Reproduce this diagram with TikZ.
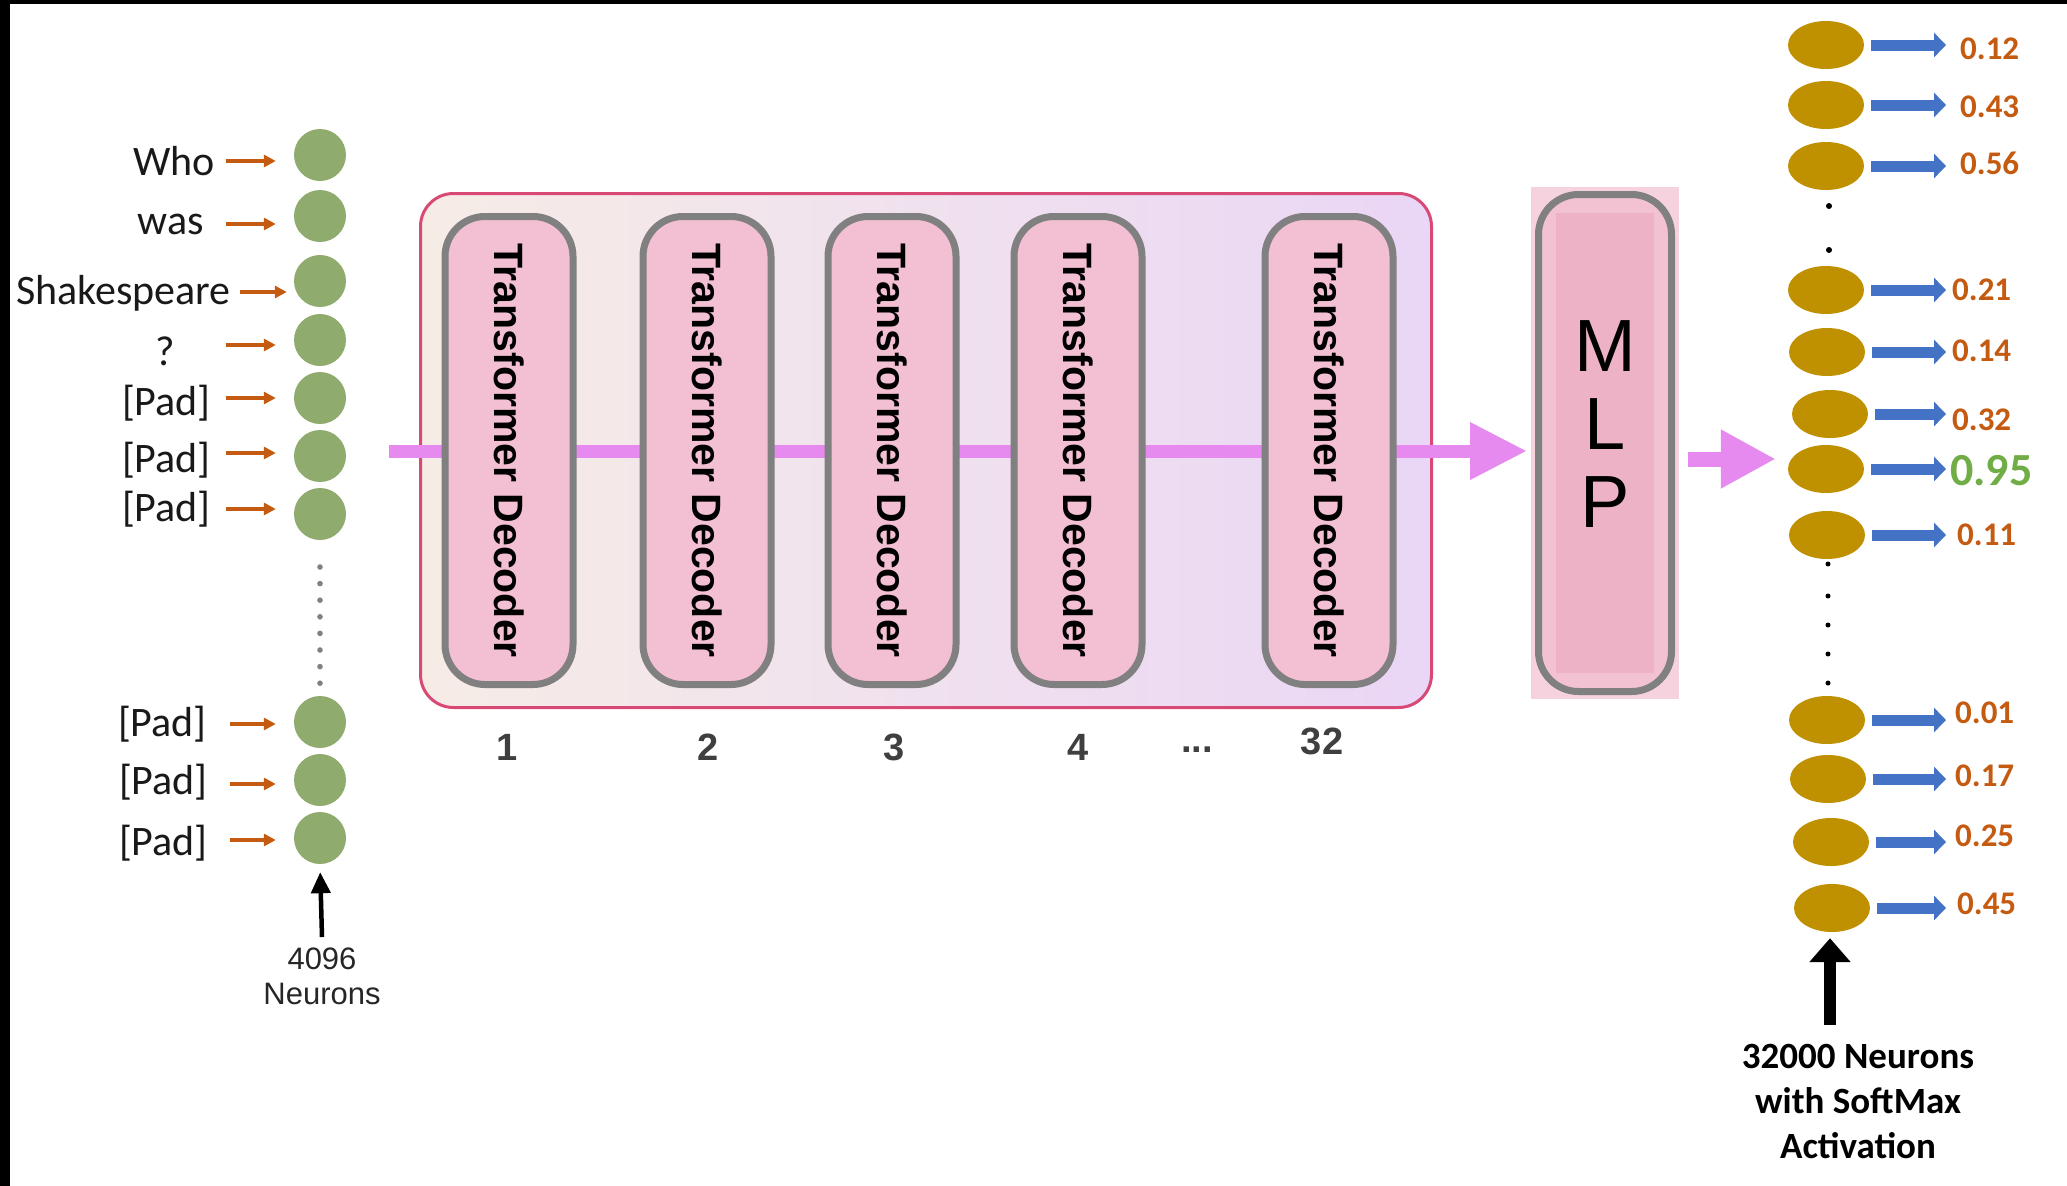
\documentclass[tikz,border=0pt]{standalone}
\usepackage{fontspec}
\usetikzlibrary{arrows.meta,calc,shapes.geometric}
\newfontfamily\carl{Carlito}
\newfontfamily\helv{Liberation Sans}
\definecolor{ingreen}{HTML}{8FAC6E}
\definecolor{orangeA}{HTML}{C55A11}
\definecolor{goldE}{HTML}{BF9000}
\definecolor{blueA}{HTML}{4472C4}
\definecolor{greenV}{HTML}{70AD47}
\definecolor{flowC}{HTML}{E68AEF}
\definecolor{decF}{HTML}{F3BFD3}
\definecolor{decD}{HTML}{808080}
\definecolor{stackD}{HTML}{D84A75}
\definecolor{stackL}{HTML}{F6ECE6}
\definecolor{stackM}{HTML}{F4DBEA}
\definecolor{stackR}{HTML}{EAD6F6}
\definecolor{mlpF}{HTML}{F2C2D2}
\definecolor{mlpIn}{HTML}{EEB2C6}
\definecolor{mlpBg}{HTML}{F6D2DE}
\definecolor{numC}{HTML}{3F3F3F}
\begin{document}
\begin{tikzpicture}[x=1pt,y=-1pt,
  incirc/.style={circle,fill=ingreen,minimum size=52pt,inner sep=0pt},
  wlabel/.style={inner sep=0pt,font=\carl\fontsize{42}{50}\selectfont,text=black!90},
  oarr/.style={draw=orangeA,line width=3.2pt,-{Triangle[length=12pt,width=12pt]},shorten >=18pt},
  stackbox/.style={draw=stackD,line width=3pt,rounded corners=33pt,
    left color=stackL,middle color=stackM,right color=stackR,
    minimum width=1011pt,minimum height=514pt,inner sep=0pt},
  dec/.style={rounded corners=40pt,draw=decD,line width=7pt,fill=decF,
    minimum width=468pt,minimum height=128pt,rotate=-90,inner sep=0pt,
    font=\helv\bfseries\fontsize{41}{48}\selectfont},
  layernum/.style={inner sep=0pt,text=numC,font=\helv\bfseries\fontsize{38}{44}\selectfont},
  pflow/.style={draw=flowC,line width=13pt,-{Triangle[length=57pt,width=54pt]}},
  pflowb/.style={draw=flowC,line width=15pt,-{Triangle[length=55pt,width=55pt]}},
  outell/.style={ellipse,fill=goldE,minimum width=76pt,minimum height=48pt,inner sep=0pt},
  barr/.style={draw=blueA,line width=11pt,-{Triangle[length=12pt,width=24pt]},shorten <=7pt},
  val/.style={inner sep=0pt,anchor=west,text=orangeA,font=\carl\bfseries\fontsize{33}{40}\selectfont},
  upbig/.style={draw=black,line width=12pt,-{Triangle[length=24pt,width=40pt]}},
  upsmall/.style={draw=black,line width=4.5pt,-{Triangle[length=21pt,width=19pt]}}
]
\useasboundingbox (0,0) rectangle (2067,1186);
\fill[white] (0,0) rectangle (2067,1186);
% frame bars along the top and left edges
\fill[black] (0,0) rectangle (2067,4);
\fill[black] (0,0) rectangle (10,1186);

% ---------- input tokens ----------
\foreach \n/\y in {1/155,2/216,3/281,4/340,5/398,6/456,7/514,8/722,9/780,10/838}
  \node[incirc] (c\n) at (320,\y) {};

\node[wlabel,anchor=east] (w1) at (215,161) {Who};
\node[wlabel,anchor=east] (w2) at (204,224) {was};
\node[wlabel,anchor=east] (w3) at (231,293) {Shakespeare};
\node[wlabel] (w4) at (165,351) {?};
\node[wlabel,anchor=east] (w5) at (211,403) {[Pad]};
\node[wlabel,anchor=east] (w6) at (211,460) {[Pad]};
\node[wlabel,anchor=east] (w7) at (211,509) {[Pad]};
\node[wlabel,anchor=east] (w8) at (207,724) {[Pad]};
\node[wlabel,anchor=east] (w9) at (208,782) {[Pad]};
\node[wlabel,anchor=east] (w10) at (208,843) {[Pad]};

\foreach \n/\x/\y in {1/226/161,2/226/224,4/226/345,5/226/398,6/226/453,7/226/509,8/230/724,9/230/784,10/230/840}{
  \coordinate (a\n) at (\x,\y);
  \draw[oarr] (a\n) -- (a\n -| c\n.west);
}
\coordinate (a3) at (240,292);
\draw[oarr,shorten >=7pt] (a3) -- (a3 -| c3.west);

% elided neurons
\foreach \k in {0,...,7}
  \fill[gray] (320,567+\k*16.6) circle (2.8);

\node[inner sep=0pt,align=center,text=black!85,font=\helv\fontsize{31}{35}\selectfont] (nin) at (322,976) {4096\\Neurons};
\coordinate (nb) at (322,937);
\draw[upsmall,shorten >=8pt] (nb) -- (c10.south);

% ---------- decoder stack ----------
\node[stackbox] (stack) at (926,450.5) {};
\coordinate (p0) at (389,451);

% MLP block
\fill[mlpBg] (1531,187) rectangle (1679,699);
\node[draw=decD,line width=7pt,fill=mlpF,rounded corners=40pt,minimum width=133pt,minimum height=497pt,inner sep=0pt] (mlp) at (1605,443) {};
\fill[mlpIn] (1556,213) rectangle (1654,673);
\node[inner sep=0pt,align=center,font=\helv\fontsize{74}{78}\selectfont] (mlptxt) at (1605,424) {M\\L\\P};

\draw[pflow,shorten >=8pt] (p0) -- (p0 -| mlp.west);

\foreach \n/\x in {1/509,2/707,3/892,4/1078,5/1329}
  \node[dec] (d\n) at (\x,450.5) {Transformer Decoder};

\node[layernum] (l1) at (507,747) {1};
\node[layernum] (l2) at (708,747) {2};
\node[layernum] (l3) at (894,747) {3};
\node[layernum] (l4) at (1078,747) {4};
\node[layernum] (ldots) at (1197,750) {...};
\node[layernum] (l32) at (1322,741) {32};

% ---------- output layer ----------
\foreach \n/\x/\y in {1/1826/45,2/1826/105,3/1826/166,4/1826/290,5/1827/352,6/1830/414,7/1826/469,8/1827/535,9/1827/720,10/1828/779,11/1831/842,12/1832/908}
  \node[outell] (o\n) at (\x,\y) {};

\coordinate (m0) at (1688,459);
\draw[pflowb,shorten >=12pt] (m0) -- (m0 -| o7.west);

\node[val] (v1) at (1960,49) {0.12};
\node[val] (v2) at (1960,107) {0.43};
\node[val] (v3) at (1960,163) {0.56};
\node[val] (v4) at (1952,290) {0.21};
\node[val] (v5) at (1952,351) {0.14};
\node[val] (v6) at (1952,420) {0.32};
\node[val,text=greenV,font=\carl\bfseries\fontsize{46}{52}\selectfont] (v7) at (1950,471) {0.95};
\node[val] (v8) at (1957,535) {0.11};
\node[val] (v9) at (1955,713) {0.01};
\node[val] (v10) at (1955,776) {0.17};
\node[val] (v11) at (1955,836) {0.25};
\node[val] (v12) at (1957,904) {0.45};

\coordinate (bend) at (1946,0);
\foreach \n in {1,...,12}
  \draw[barr] (o\n.east) -- (o\n.east -| bend);

% elided output neurons
\fill[black] (1829,206) circle (3);
\fill[black] (1829,250) circle (3);
\foreach \y in {564,596,625,654,683}
  \fill[black] (1828,\y) circle (2.5);

\node[inner sep=0pt,align=center,font=\carl\bfseries\fontsize{37}{45}\selectfont] (nout) at (1858,1101) {32000 Neurons\\with SoftMax\\Activation};
\coordinate (ob) at (1830,1025);
\draw[upbig,shorten >=6pt] (ob) -- (ob |- o12.south);
\end{tikzpicture}
\end{document}
